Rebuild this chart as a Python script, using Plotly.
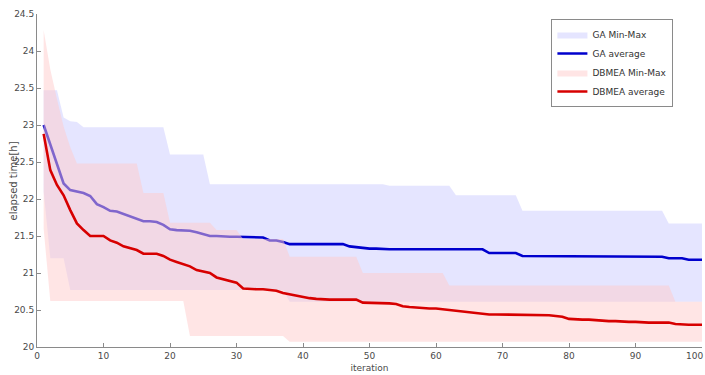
import plotly.graph_objects as go

iterations = list(range(1, 101))

ga_avg = [23.00, 22.73, 22.46, 22.21, 22.12, 22.10, 22.08, 22.04, 21.93, 21.89,
          21.84, 21.83, 21.80, 21.76, 21.73, 21.70, 21.70, 21.69, 21.65, 21.59,
          21.58, 21.58, 21.57, 21.55, 21.53, 21.50, 21.50, 21.49, 21.49, 21.49,
          21.485, 21.485, 21.485, 21.48, 21.44, 21.44, 21.42, 21.39, 21.39, 21.39,
          21.39, 21.39, 21.39, 21.39, 21.39, 21.39, 21.36, 21.35, 21.33, 21.33,
          21.33, 21.32, 21.32, 21.32, 21.32, 21.32, 21.32, 21.32, 21.32, 21.32,
          21.32, 21.32, 21.32, 21.32, 21.32, 21.32, 21.32, 21.27, 21.27, 21.27,
          21.27, 21.27, 21.23, 21.23, 21.23, 21.23, 21.22, 21.22, 21.22, 21.22,
          21.22, 21.22, 21.22, 21.22, 21.22, 21.22, 21.22, 21.22, 21.22, 21.22,
          21.22, 21.22, 21.22, 21.22, 21.20, 21.20, 21.20, 21.18, 21.18, 21.18]

ga_max = [23.47, 23.47, 23.47, 23.10, 23.05, 23.04, 22.97, 22.97, 22.97, 22.97,
          22.97, 22.97, 22.97, 22.97, 22.97, 22.97, 22.97, 22.97, 22.97, 22.60,
          22.60, 22.60, 22.60, 22.60, 22.60, 22.20, 22.20, 22.20, 22.20, 22.20,
          22.20, 22.20, 22.20, 22.20, 22.20, 22.20, 22.20, 22.20, 22.20, 22.20,
          22.20, 22.20, 22.20, 22.20, 22.20, 22.20, 22.20, 22.20, 22.20, 22.20,
          22.20, 22.20, 22.18, 22.18, 22.18, 22.18, 22.18, 22.18, 22.18, 22.18,
          22.18, 22.18, 22.05, 22.05, 22.05, 22.05, 22.05, 22.05, 22.05, 22.05,
          22.05, 22.05, 21.84, 21.84, 21.84, 21.84, 21.84, 21.84, 21.84, 21.84,
          21.84, 21.84, 21.84, 21.84, 21.84, 21.84, 21.84, 21.84, 21.84, 21.84,
          21.84, 21.84, 21.84, 21.84, 21.67, 21.67, 21.67, 21.67, 21.67, 21.67]

ga_min = [22.10, 21.20, 21.20, 21.20, 20.77, 20.77, 20.77, 20.77, 20.77, 20.77,
          20.77, 20.77, 20.77, 20.77, 20.77, 20.77, 20.77, 20.77, 20.77, 20.77,
          20.77, 20.77, 20.77, 20.77, 20.77, 20.77, 20.77, 20.77, 20.77, 20.77,
          20.77, 20.77, 20.77, 20.77, 20.77, 20.77, 20.77, 20.61, 20.61, 20.61,
          20.61, 20.61, 20.61, 20.61, 20.61, 20.61, 20.61, 20.61, 20.61, 20.61,
          20.61, 20.61, 20.61, 20.61, 20.61, 20.61, 20.61, 20.61, 20.61, 20.61,
          20.61, 20.61, 20.61, 20.61, 20.61, 20.61, 20.61, 20.61, 20.61, 20.61,
          20.61, 20.61, 20.61, 20.61, 20.61, 20.61, 20.61, 20.61, 20.61, 20.61,
          20.61, 20.61, 20.61, 20.61, 20.61, 20.61, 20.61, 20.61, 20.61, 20.61,
          20.61, 20.61, 20.61, 20.61, 20.61, 20.61, 20.61, 20.61, 20.61, 20.61]

dbmea_avg = [22.88, 22.39, 22.19, 22.05, 21.85, 21.67, 21.58, 21.50, 21.50, 21.50,
             21.44, 21.41, 21.36, 21.33, 21.31, 21.26, 21.26, 21.26, 21.23, 21.18,
             21.15, 21.12, 21.09, 21.04, 21.02, 21.00, 20.94, 20.92, 20.90, 20.87,
             20.79, 20.78, 20.78, 20.78, 20.77, 20.76, 20.73, 20.71, 20.70, 20.67,
             20.66, 20.65, 20.64, 20.64, 20.64, 20.64, 20.64, 20.64, 20.60, 20.60,
             20.60, 20.59, 20.59, 20.58, 20.55, 20.54, 20.53, 20.52, 20.52, 20.52,
             20.51, 20.49, 20.48, 20.47, 20.47, 20.46, 20.45, 20.44, 20.44, 20.44,
             20.44, 20.44, 20.44, 20.44, 20.44, 20.44, 20.43, 20.42, 20.41, 20.38,
             20.37, 20.37, 20.37, 20.36, 20.36, 20.35, 20.35, 20.34, 20.34, 20.34,
             20.33, 20.33, 20.33, 20.33, 20.33, 20.31, 20.30, 20.30, 20.30, 20.30]

dbmea_max = [24.28, 23.75, 23.35, 22.98, 22.70, 22.48, 22.48, 22.48, 22.48, 22.48,
             22.48, 22.48, 22.48, 22.48, 22.48, 22.08, 22.08, 22.08, 22.08, 21.68,
             21.68, 21.68, 21.68, 21.68, 21.68, 21.68, 21.58, 21.58, 21.58, 21.58,
             21.46, 21.46, 21.46, 21.46, 21.46, 21.46, 21.46, 21.22, 21.22, 21.22,
             21.22, 21.22, 21.22, 21.22, 21.22, 21.22, 21.22, 21.22, 21.00, 21.00,
             21.00, 21.00, 21.00, 21.00, 21.00, 21.00, 21.00, 21.00, 21.00, 21.00,
             21.00, 20.83, 20.83, 20.83, 20.83, 20.83, 20.83, 20.83, 20.83, 20.83,
             20.83, 20.83, 20.83, 20.83, 20.83, 20.83, 20.83, 20.83, 20.83, 20.83,
             20.83, 20.83, 20.83, 20.83, 20.83, 20.83, 20.83, 20.83, 20.83, 20.83,
             20.83, 20.83, 20.83, 20.83, 20.83, 20.61, 20.61, 20.61, 20.61, 20.61]

dbmea_min = [21.60, 20.62, 20.62, 20.62, 20.62, 20.62, 20.62, 20.62, 20.62, 20.62,
             20.62, 20.62, 20.62, 20.62, 20.62, 20.62, 20.62, 20.62, 20.62, 20.62,
             20.62, 20.62, 20.15, 20.15, 20.15, 20.15, 20.15, 20.15, 20.15, 20.15,
             20.15, 20.15, 20.15, 20.15, 20.15, 20.15, 20.15, 20.07, 20.07, 20.07,
             20.07, 20.07, 20.07, 20.07, 20.07, 20.07, 20.07, 20.07, 20.07, 20.07,
             20.07, 20.07, 20.07, 20.07, 20.07, 20.07, 20.07, 20.07, 20.07, 20.07,
             20.07, 20.07, 20.07, 20.07, 20.07, 20.07, 20.07, 20.07, 20.07, 20.07,
             20.07, 20.07, 20.07, 20.07, 20.07, 20.07, 20.07, 20.07, 20.07, 20.07,
             20.07, 20.07, 20.07, 20.07, 20.07, 20.07, 20.07, 20.07, 20.07, 20.07,
             20.07, 20.07, 20.07, 20.07, 20.07, 20.07, 20.07, 20.07, 20.07, 20.07]

x_ticks = [0, 10, 20, 30, 40, 50, 60, 70, 80, 90, 100]
x_tick_labels = ["0", "10", "20", "30", "40", "50", "60", "70", "80", "90", ""]
last_x_label = "100"
y_ticks = [20, 20.5, 21, 21.5, 22, 22.5, 23, 23.5, 24, 24.5]
y_tick_labels = ["20", "20.5", "21", "21.5", "22", "22.5", "23", "23.5", "24", "24.5"]

GA_FILL = "rgba(204,204,255,0.5)"
DB_FILL = "rgba(255,204,204,0.5)"
GA_LINE = "rgb(0,0,205)"
DB_LINE = "rgb(215,0,0)"

fig = go.Figure()
fig.add_trace(go.Scatter(x=iterations, y=ga_min, mode="lines", line=dict(width=0),
                         showlegend=False, hoverinfo="skip"))
fig.add_trace(go.Scatter(x=iterations, y=ga_max, mode="lines", line=dict(width=0),
                         fill="tonexty", fillcolor=GA_FILL, name="GA Min-Max"))
fig.add_trace(go.Scatter(x=iterations, y=ga_avg, mode="lines",
                         line=dict(color=GA_LINE, width=2.6), name="GA average"))
fig.add_trace(go.Scatter(x=iterations, y=dbmea_min, mode="lines", line=dict(width=0),
                         showlegend=False, hoverinfo="skip"))
fig.add_trace(go.Scatter(x=iterations, y=dbmea_max, mode="lines", line=dict(width=0),
                         fill="tonexty", fillcolor=DB_FILL, name="DBMEA Min-Max"))
fig.add_trace(go.Scatter(x=iterations, y=dbmea_avg, mode="lines",
                         line=dict(color=DB_LINE, width=2.6), name="DBMEA average"))

axis_font = dict(family="DejaVu Sans", size=9, color="#4a4a4a")

fig.update_layout(
    width=705, height=375,
    margin=dict(l=37, r=3, t=14, b=28),
    paper_bgcolor="white", plot_bgcolor="white",
    font=axis_font,
    showlegend=True,
    legend=dict(x=0.957, y=0.985, xanchor="right", yanchor="top",
                traceorder="normal",
                bgcolor="white", bordercolor="#8a8a8a", borderwidth=1,
                font=dict(family="DejaVu Sans", size=9, color="#333333"),
                tracegroupgap=0, itemwidth=30),
    xaxis=dict(range=[0, 100], tickvals=x_ticks, ticktext=x_tick_labels,
               ticks="inside", ticklen=4,
               tickcolor="#8a8a8a", showline=True, linecolor="#8a8a8a", linewidth=1,
               showgrid=False, zeroline=False, tickfont=axis_font, automargin=False,
               title=dict(text="iteration", font=axis_font, standoff=4)),
    yaxis=dict(range=[20, 24.5], tickvals=y_ticks, ticktext=y_tick_labels,
               ticks="inside", ticklen=4, tickcolor="#8a8a8a", showline=True,
               linecolor="#8a8a8a", linewidth=1, showgrid=False, zeroline=False,
               tickfont=axis_font, automargin=False),
    annotations=[
        dict(text="elapsed time[h]", textangle=-90, xref="paper", yref="paper",
             x=-0.0346, y=0.5, xanchor="center", yanchor="middle",
             showarrow=False, font=dict(family="DejaVu Sans", size=10, color="#4a4a4a")),
        dict(text=last_x_label, xref="x", yref="paper", x=x_ticks[-1], y=0,
             xanchor="right", yanchor="top", xshift=3, yshift=-2, showarrow=False,
             font=axis_font),
    ],
)

fig.write_html("out.html")
